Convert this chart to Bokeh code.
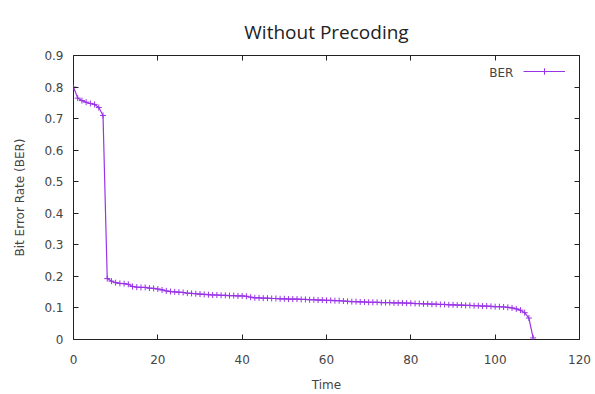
from bokeh.plotting import figure
from bokeh.models import (FixedTicker, LinearAxis, Legend, LegendItem, Label, Range1d,
                          CustomJSTickFormatter)
from bokeh.embed import file_html
from bokeh.resources import INLINE

title_text = "Without Precoding"
x_label = "Time"
y_label = "Bit Error Rate (BER)"
series_name = "BER"

time = list(range(0, 110))
ber = [
    0.800, 0.765, 0.757, 0.752, 0.748, 0.745, 0.735, 0.710,
    0.193, 0.185, 0.180, 0.178, 0.177, 0.175, 0.168, 0.166, 0.165, 0.165, 0.163, 0.162,
    0.160, 0.157, 0.154, 0.152, 0.151, 0.150, 0.149, 0.147, 0.146, 0.145,
    0.144, 0.143, 0.142, 0.141, 0.141, 0.140, 0.140, 0.139, 0.139, 0.138,
    0.138, 0.137, 0.134, 0.132, 0.132, 0.131, 0.131, 0.130, 0.130, 0.129,
    0.129, 0.128, 0.128, 0.128, 0.127, 0.127, 0.126, 0.126, 0.125, 0.125,
    0.124, 0.124, 0.123, 0.123, 0.122, 0.121, 0.120, 0.120, 0.119, 0.119,
    0.118, 0.118, 0.118, 0.117, 0.117, 0.117, 0.116, 0.116, 0.116, 0.115,
    0.115, 0.114, 0.114, 0.113, 0.113, 0.112, 0.112, 0.111, 0.111, 0.110,
    0.110, 0.109, 0.109, 0.108, 0.108, 0.107, 0.107, 0.106, 0.106, 0.105,
    0.104, 0.104, 0.103, 0.102, 0.100, 0.097, 0.093, 0.085, 0.068, 0.005,
]
x_ticks = [0, 20, 40, 60, 80, 100, 120]
y_ticks = [0, 0.1, 0.2, 0.3, 0.4, 0.5, 0.6, 0.7, 0.8, 0.9]

LINE_COLOR = "#9933e6"
TEXT_COLOR = "#444444"
FONT = "DejaVu Sans"

p = figure(width=595, height=394, output_backend="svg", toolbar_location=None,
           x_range=Range1d(0, 120), y_range=Range1d(0, 0.9),
           min_border_left=73, min_border_right=16, min_border_top=55, min_border_bottom=53,
           x_axis_label=x_label, y_axis_label=y_label)

p.title.text = title_text
p.title.align = "center"
p.title.vertical_align = "top"
p.title.text_font = "Open Sans"
p.title.text_font_size = "19px"
p.title.text_font_style = "normal"
p.title.text_color = "#222222"
p.title.offset = 0
p.title.standoff = 18

p.grid.visible = False
p.outline_line_color = "#222222"
p.outline_line_width = 1
p.background_fill_color = "white"
p.border_fill_color = "white"

for ax in (p.xaxis[0], p.yaxis[0]):
    ax.axis_line_color = None
    ax.major_tick_in = 5
    ax.major_tick_out = 0
    ax.minor_tick_line_color = None
    ax.major_tick_line_color = "#222222"
    ax.major_label_text_font = FONT
    ax.major_label_text_font_size = "12px"
    ax.major_label_text_color = TEXT_COLOR
    ax.axis_label_text_font = FONT
    ax.axis_label_text_font_size = "12px"
    ax.axis_label_text_font_style = "normal"
    ax.axis_label_text_color = TEXT_COLOR

p.xaxis[0].ticker = FixedTicker(ticks=x_ticks)
p.yaxis[0].ticker = FixedTicker(ticks=y_ticks)
p.yaxis[0].major_label_overrides = {0: "0"}
p.xaxis[0].major_label_standoff = 15
p.xaxis[0].axis_label_standoff = 11
p.yaxis[0].major_label_standoff = 10
p.yaxis[0].axis_label_standoff = 14

# mirrored ticks (top and right), no labels
blank = CustomJSTickFormatter(code="return '';")
top = LinearAxis(ticker=FixedTicker(ticks=x_ticks), formatter=blank,
                 axis_line_color=None, major_tick_in=5, major_tick_out=0,
                 major_label_standoff=0,
                 minor_tick_line_color=None, major_tick_line_color="#222222")
right = LinearAxis(ticker=FixedTicker(ticks=y_ticks), formatter=blank,
                   axis_line_color=None, major_tick_in=5, major_tick_out=0,
                   major_label_standoff=0,
                   minor_tick_line_color=None, major_tick_line_color="#222222")
p.add_layout(top, "above")
p.add_layout(right, "right")

line = p.line(time, ber, line_color=LINE_COLOR, line_width=1.2)
pts = p.scatter(time, ber, marker="cross", size=6, line_color=LINE_COLOR, line_width=1)

legend = Legend(items=[LegendItem(label=" ", renderers=[line, pts])],
                location=(450, 260), glyph_width=42, glyph_height=16,
                label_text_font_size="1px", label_standoff=0, label_width=0,
                padding=0, margin=0, spacing=0,
                border_line_color=None, background_fill_alpha=0)
p.add_layout(legend, "center")

p.add_layout(Label(x=104.3, y=0.843, text=series_name, text_align="right",
                   text_baseline="middle", text_font=FONT, text_font_size="12px",
                   text_color=TEXT_COLOR))

open("out.html", "w").write(file_html(p, INLINE))
